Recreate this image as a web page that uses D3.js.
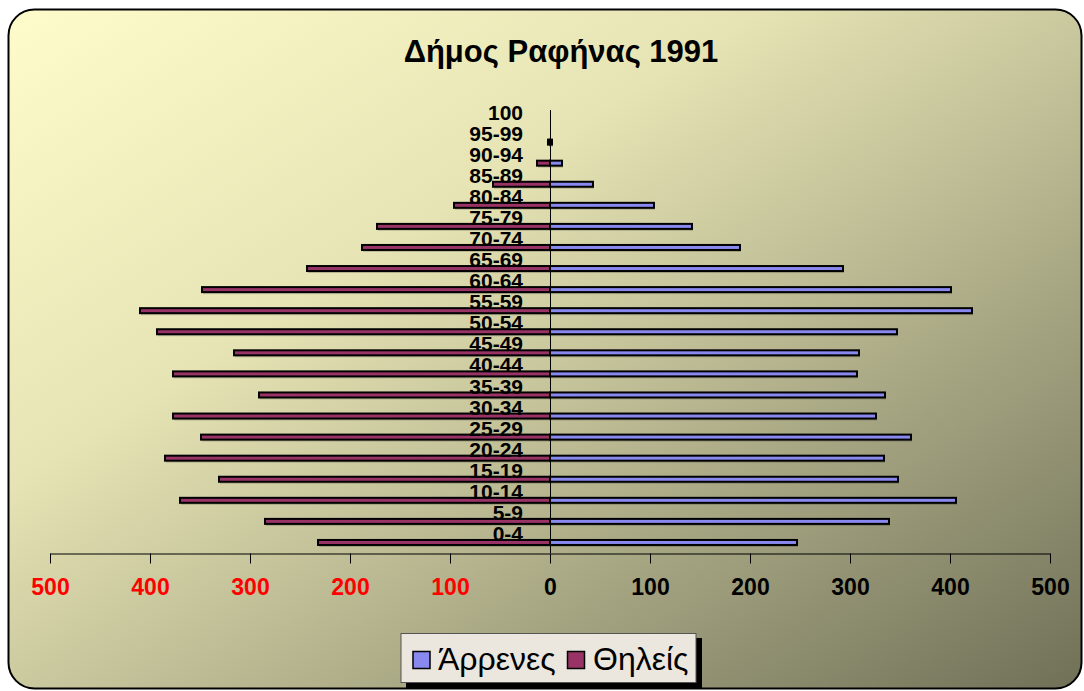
<!DOCTYPE html>
<html>
<head>
<meta charset="utf-8">
<script src="https://cdn.jsdelivr.net/npm/d3@7"></script>
<style>
  html, body { margin: 0; padding: 0; background: #ffffff; }
  svg { display: block; }
</style>
</head>
<body>
<svg id="chart" width="1084" height="691"></svg>
<script>
const categories = ["0-4","5-9","10-14","15-19","20-24","25-29","30-34","35-39","40-44","45-49","50-54","55-59","60-64","65-69","70-74","75-79","80-84","85-89","90-94","95-99","100"];
const males   = [247, 339, 406, 348, 334, 361, 326, 335, 307, 309, 347, 422, 401, 293, 190, 142, 104, 43, 12, 2, 0];
const females = [232, 285, 370, 331, 385, 349, 377, 291, 377, 316, 393, 410, 348, 243, 188, 173, 96, 57, 13, 2, 0];
const tickValues = [-500, -400, -300, -200, -100, 0, 100, 200, 300, 400, 500];
const title = "Δήμος Ραφήνας 1991";
const seriesNames = ["Άρρενες", "Θηλείς"];
const colors = { male: "#8888ee", female: "#993366" };

const svg = d3.select("#chart");
const defs = svg.append("defs");

const grad = defs.append("linearGradient")
  .attr("id", "bg").attr("x1", "0%").attr("y1", "0%").attr("x2", "100%").attr("y2", "100%");
grad.append("stop").attr("offset", "0%").attr("stop-color", "#fefccb");
grad.append("stop").attr("offset", "35%").attr("stop-color", "#e6e4b4");
grad.append("stop").attr("offset", "100%").attr("stop-color", "#707058");

// background panel
svg.append("rect")
  .attr("x", 8.5).attr("y", 9.5).attr("width", 1073).attr("height", 679)
  .attr("rx", 26).attr("ry", 26)
  .attr("fill", "url(#bg)").attr("stroke", "#000").attr("stroke-width", 2);

// title
svg.append("text")
  .attr("x", 561).attr("y", 62)
  .attr("text-anchor", "middle")
  .attr("font-family", "Liberation Sans, Arial, sans-serif")
  .attr("font-weight", "bold").attr("font-size", 31)
  .text(title);

// scales
const y = d3.scaleBand().domain(categories.slice().reverse()).range([110.5, 553]).padding(0);
const xM = d3.scaleLinear().domain([0, 500]).range([550, 1050]);
const xF = d3.scaleLinear().domain([0, 500]).range([550, 50]);
const xAxisScale = d3.scaleLinear().domain([-500, 500]).range([50, 1050]);

const barH = 5;
const data = categories.map((c, i) => ({ cat: c, m: males[i], f: females[i] }));

const gBars = svg.append("g");
// shadows
gBars.selectAll("rect.shm").data(data.filter(d => d.m > 0)).join("rect")
  .attr("x", xM(0) + 1).attr("y", d => y(d.cat) + y.bandwidth() / 2 - barH / 2 + 2)
  .attr("width", d => xM(d.m) - xM(0)).attr("height", barH)
  .attr("fill", "rgba(0,0,0,0.18)");
gBars.selectAll("rect.shf").data(data.filter(d => d.f > 0)).join("rect")
  .attr("x", d => xF(d.f) + 1).attr("y", d => y(d.cat) + y.bandwidth() / 2 - barH / 2 + 2)
  .attr("width", d => xF(0) - xF(d.f)).attr("height", barH)
  .attr("fill", "rgba(0,0,0,0.18)");

gBars.selectAll("rect.m").data(data.filter(d => d.m > 0)).join("rect")
  .attr("class", "m")
  .attr("x", xM(0)).attr("y", d => y(d.cat) + y.bandwidth() / 2 - barH / 2)
  .attr("width", d => xM(d.m) - xM(0)).attr("height", barH)
  .attr("fill", colors.male).attr("stroke", "#000").attr("stroke-width", 2);
gBars.selectAll("rect.f").data(data.filter(d => d.f > 0)).join("rect")
  .attr("class", "f")
  .attr("x", d => xF(d.f)).attr("y", d => y(d.cat) + y.bandwidth() / 2 - barH / 2)
  .attr("width", d => xF(0) - xF(d.f)).attr("height", barH)
  .attr("fill", colors.female).attr("stroke", "#000").attr("stroke-width", 2);

// vertical axis line
svg.append("line")
  .attr("x1", 550.5).attr("x2", 550.5).attr("y1", 110).attr("y2", 553)
  .attr("stroke", "#000").attr("stroke-width", 1);

// category labels
svg.append("g").selectAll("text").data(categories).join("text")
  .attr("x", 523).attr("y", d => y(d) + y.bandwidth() / 2 - 9)
  .attr("dy", "0.36em")
  .attr("text-anchor", "end")
  .attr("font-family", "Liberation Sans, Arial, sans-serif")
  .attr("font-weight", "bold").attr("font-size", 21)
  .attr("fill", "#000")
  .text(d => d);

// x axis
const xAxis = d3.axisBottom(xAxisScale)
  .tickValues(tickValues)
  .tickSize(10)
  .tickSizeOuter(0)
  .tickPadding(15)
  .tickFormat(d => Math.abs(d));
const gx = svg.append("g").attr("transform", "translate(0,553.5)").call(xAxis);
gx.select(".domain").attr("stroke", "#000").attr("stroke-width", 1.2);
gx.selectAll(".tick line").attr("stroke", "#000");
gx.selectAll(".tick text")
  .attr("font-family", "Liberation Sans, Arial, sans-serif")
  .attr("font-weight", "bold").attr("font-size", 23)
  .attr("fill", d => d < 0 ? "#ff0000" : "#000");

// legend
const lg = svg.append("g");
lg.append("rect").attr("x", 406).attr("y", 638).attr("width", 296).attr("height", 50).attr("fill", "#000");
lg.append("rect").attr("x", 401).attr("y", 633.5).attr("width", 295).attr("height", 49)
  .attr("fill", "#ebe6de").attr("stroke", "#555").attr("stroke-width", 1);
const legendItems = [
  { name: seriesNames[0], color: colors.male, sx: 413, tx: 438 },
  { name: seriesNames[1], color: colors.female, sx: 567.5, tx: 593 }
];
lg.selectAll("rect.sw").data(legendItems).join("rect")
  .attr("x", d => d.sx).attr("y", 651.5).attr("width", 17).attr("height", 17)
  .attr("fill", d => d.color).attr("stroke", "#000").attr("stroke-width", 1.5);
lg.selectAll("text").data(legendItems).join("text")
  .attr("x", d => d.tx).attr("y", 670)
  .attr("font-family", "Liberation Sans, Arial, sans-serif")
  .attr("font-size", 32).attr("fill", "#000")
  .text(d => d.name);
</script>
</body>
</html>
